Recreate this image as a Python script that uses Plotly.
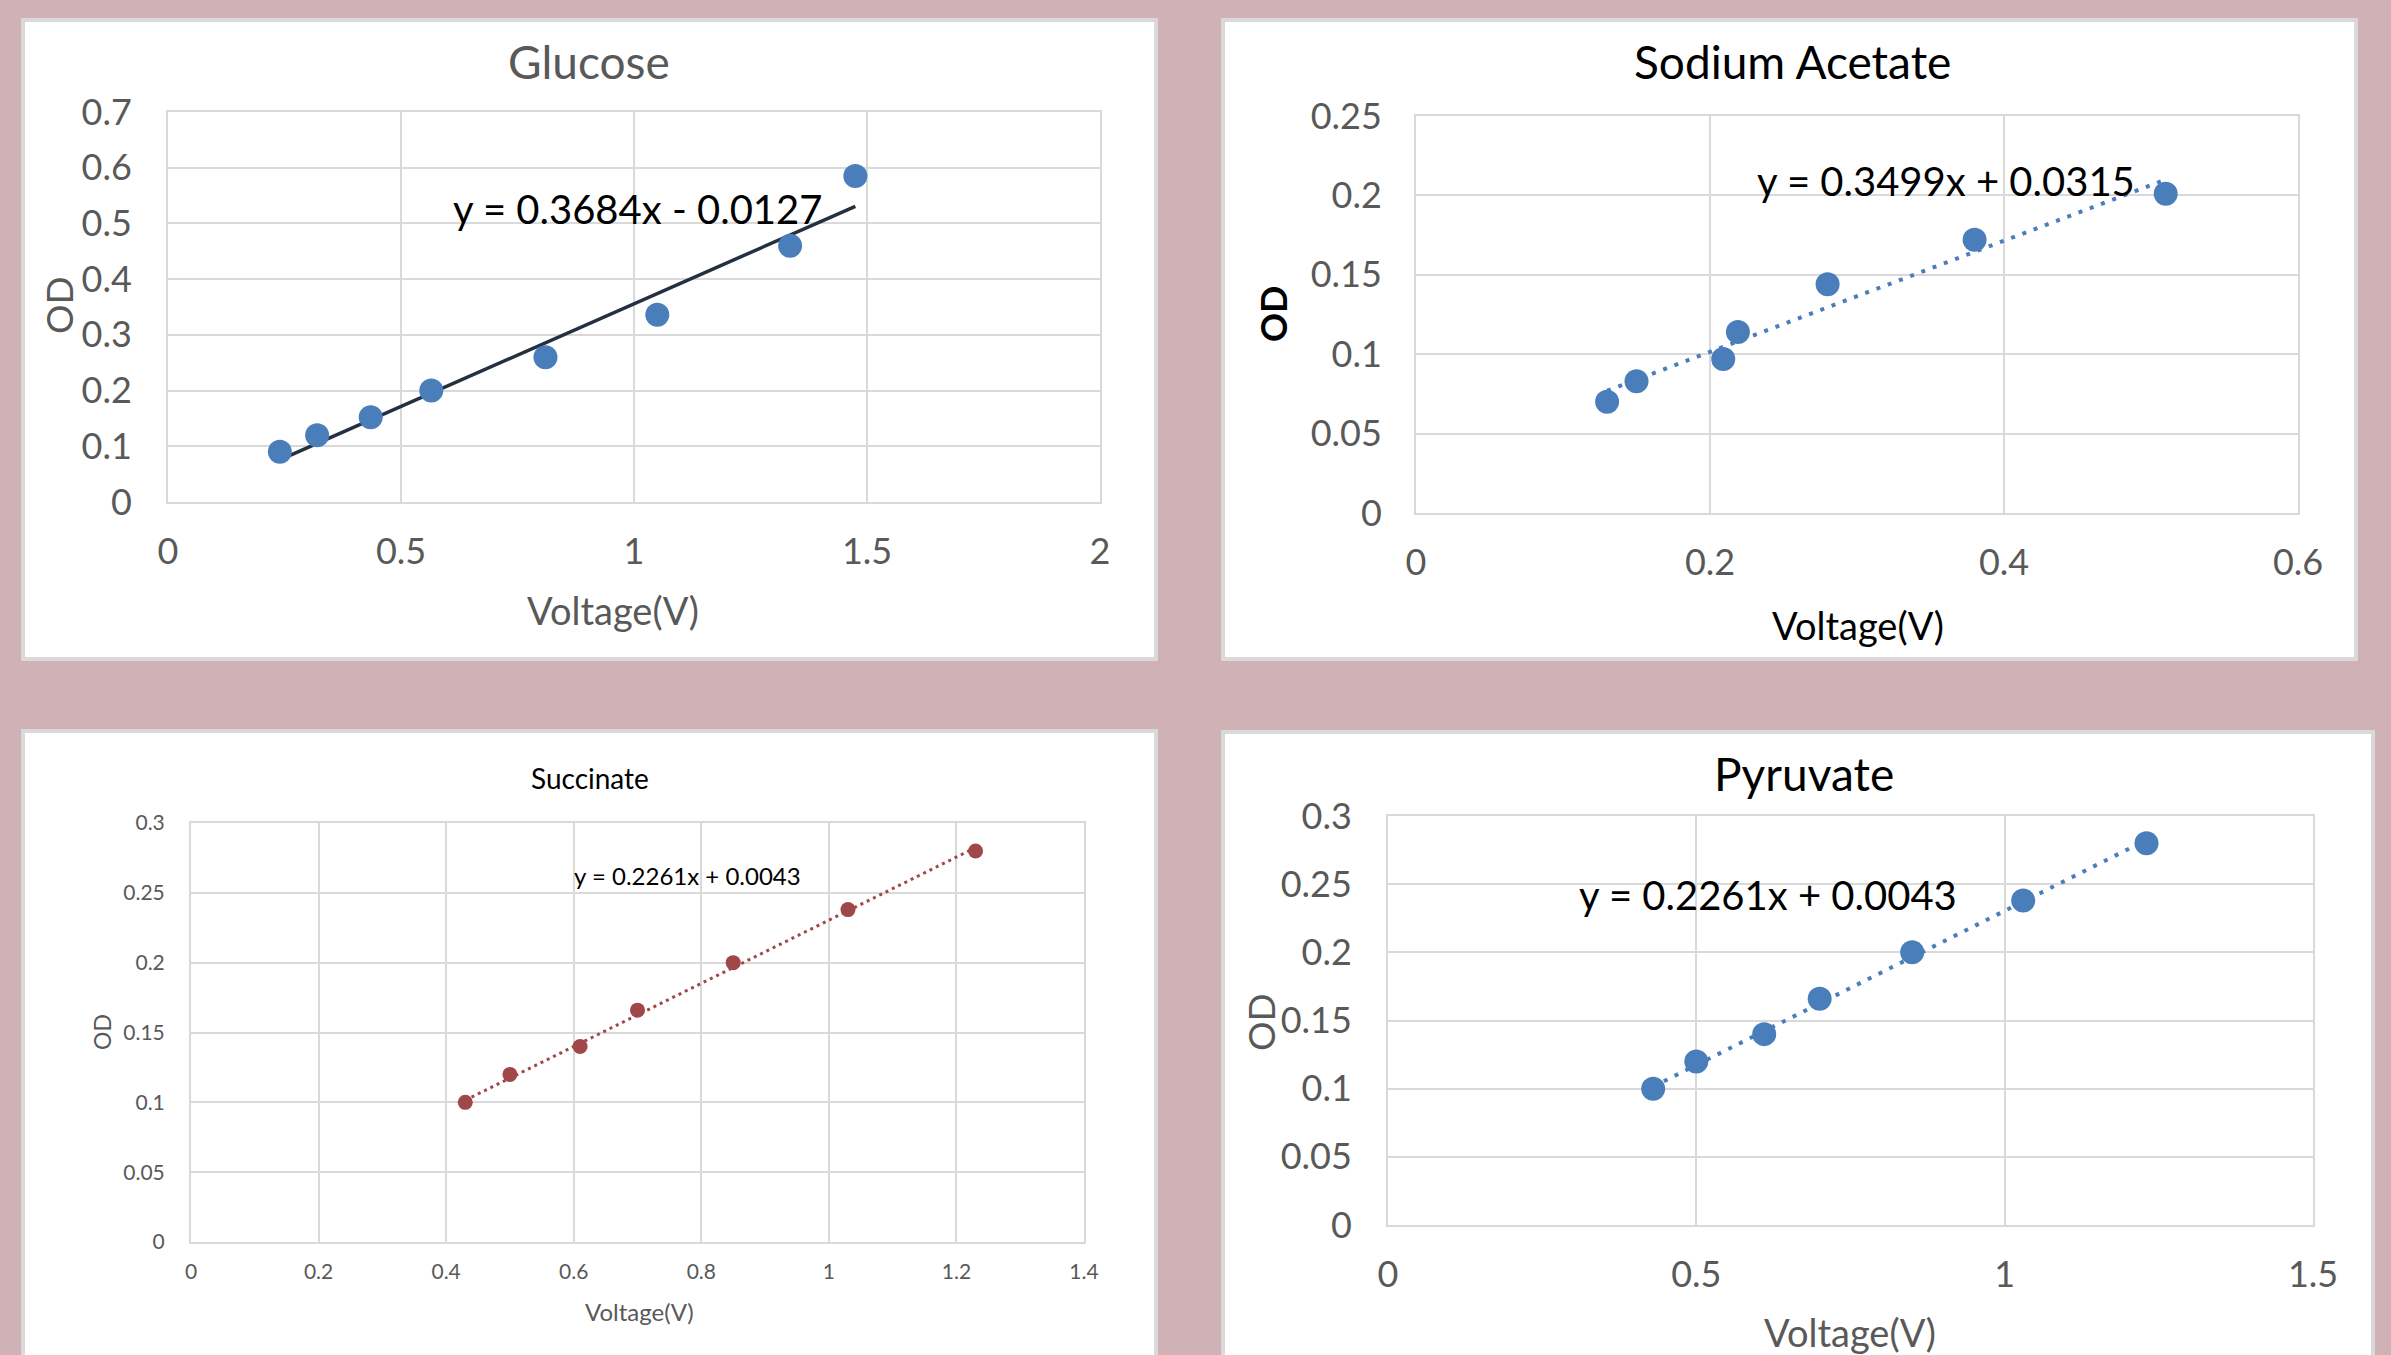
import numpy as np
import plotly.graph_objects as go

W, H = 2391, 1355

# ---------------- data ----------------
glucose_v = [0.24, 0.32, 0.435, 0.565, 0.81, 1.05, 1.335, 1.475]
glucose_od = [0.09, 0.12, 0.152, 0.20, 0.26, 0.336, 0.46, 0.585]
glucose_fit = [0.3684, -0.0127]

acetate_v = [0.13, 0.15, 0.209, 0.219, 0.28, 0.38, 0.51]
acetate_od = [0.07, 0.083, 0.097, 0.114, 0.144, 0.172, 0.201]
acetate_fit = [0.3499, 0.0315]

succinate_v = [0.43, 0.50, 0.61, 0.70, 0.85, 1.03, 1.23]
succinate_od = [0.10, 0.12, 0.14, 0.166, 0.20, 0.238, 0.28]
succinate_fit = [0.2261, 0.0043]

pyruvate_v = [0.43, 0.50, 0.61, 0.70, 0.85, 1.03, 1.23]
pyruvate_od = [0.10, 0.12, 0.14, 0.166, 0.20, 0.238, 0.28]
pyruvate_fit = [0.2261, 0.0043]

titles = ["Glucose", "Sodium Acetate", "Succinate", "Pyruvate"]
equations = ["y = 0.3684x - 0.0127", "y = 0.3499x + 0.0315",
             "y = 0.2261x + 0.0043", "y = 0.2261x + 0.0043"]

FONT = "Lato, 'Open Sans', sans-serif"
GRAY = "#595959"
GRID = "#d9d9d9"
BLUE = "#4a7ebb"
RED = "#a0474a"
BG = "#d0b1b5"


def px(x):
    return x / W


def py(y):
    return 1 - y / H


fig = go.Figure()

# panel definitions: plot-area pixel boxes (left, right, top, bottom)
panels = [
    dict(v=glucose_v, od=glucose_od, fit=glucose_fit, box=(168, 1100, 112, 502),
         xr=[0, 2], xd=0.5, yr=[0, 0.7], yd=0.1, tick=36, color=BLUE, msize=24,
         line=dict(color="#23303f", width=3.5, dash="solid"),
         xstand=17, ystand=27),
    dict(v=acetate_v, od=acetate_od, fit=acetate_fit, box=(1416, 2298, 116, 513),
         xr=[0, 0.6], xd=0.2, yr=[0, 0.25], yd=0.05, tick=36, color=BLUE, msize=24,
         line=dict(color=BLUE, width=4, dash="4px,8px"),
         xstand=17, ystand=25),
    dict(v=succinate_v, od=succinate_od, fit=succinate_fit, box=(191, 1084, 823, 1242),
         xr=[0, 1.4], xd=0.2, yr=[0, 0.3], yd=0.05, tick=21, color=RED, msize=15,
         line=dict(color=RED, width=3, dash="3px,4px"),
         xstand=10, ystand=20),
    dict(v=pyruvate_v, od=pyruvate_od, fit=pyruvate_fit, box=(1388, 2313, 816, 1225),
         xr=[0, 1.5], xd=0.5, yr=[0, 0.3], yd=0.05, tick=36, color=BLUE, msize=24,
         line=dict(color=BLUE, width=4, dash="4px,8px"),
         xstand=17, ystand=27),
]

layout_axes = {}
for i, p in enumerate(panels):
    n = "" if i == 0 else str(i + 1)
    xa, ya = "x" + n, "y" + n
    l, r, t, b = p["box"]
    x = np.array(p["v"])
    xs = np.array([x.min(), x.max()])
    ys = p["fit"][0] * xs + p["fit"][1]
    fig.add_trace(go.Scatter(x=xs, y=ys, mode="lines", line=p["line"],
                             xaxis=xa, yaxis=ya, showlegend=False, hoverinfo="skip"))
    fig.add_trace(go.Scatter(x=p["v"], y=p["od"], mode="markers",
                             marker=dict(color=p["color"], size=p["msize"]),
                             xaxis=xa, yaxis=ya, showlegend=False))
    common = dict(showgrid=True, gridcolor=GRID, gridwidth=2, zeroline=False,
                  showline=True, linecolor=GRID, linewidth=2, mirror=True,
                  ticks="", tickfont=dict(family=FONT, size=p["tick"], color=GRAY),
                  fixedrange=True, automargin=False)
    layout_axes["xaxis" + n] = dict(common, domain=[px(l), px(r)], range=p["xr"],
                                    dtick=p["xd"], tick0=0, anchor=ya,
                                    ticklabelstandoff=p["xstand"])
    layout_axes["yaxis" + n] = dict(common, domain=[py(b), py(t)], range=p["yr"],
                                    dtick=p["yd"], tick0=0, anchor=xa,
                                    ticklabelstandoff=p["ystand"])

# cards behind each chart
cards = [(23, 1156, 20, 659), (1223, 2356, 20, 659), (23, 1156, 731, 1420), (1223, 2373, 732, 1420)]
shapes = []
for (l, r, t, b) in cards:
    shapes.append(dict(type="rect", xref="paper", yref="paper", layer="below",
                       x0=px(l), x1=px(r), y0=py(b), y1=py(t),
                       fillcolor="white", line=dict(color=GRID, width=4)))

annotations = []


def ann(text, x, y, size, color, angle=0, bold=False):
    t = "<b>%s</b>" % text if bold else text
    annotations.append(dict(text=t, x=px(x), y=py(y), xref="paper", yref="paper",
                            xanchor="center", yanchor="middle", showarrow=False,
                            textangle=angle, font=dict(family=FONT, size=size, color=color)))


# Glucose
ann(titles[0], 589, 61, 46, GRAY)
ann(equations[0], 637, 209, 40, "black")
ann("Voltage(V)", 613, 610, 38, GRAY)
ann("OD", 58, 305, 37, GRAY, angle=-90)
# Sodium Acetate
ann(titles[1], 1793, 61, 46, "black")
ann(equations[1], 1946, 181, 40, "black")
ann("Voltage(V)", 1858, 625, 38, "black")
ann("OD", 1273, 314, 36, "black", angle=-90, bold=True)
# Succinate
ann(titles[2], 590, 778, 28, "black")
ann(equations[2], 687, 875, 24, "black")
ann("Voltage(V)", 639, 1311, 24, GRAY)
ann("OD", 102, 1032, 23, GRAY, angle=-90)
# Pyruvate
ann(titles[3], 1804, 773, 46, "black")
ann(equations[3], 1768, 895, 40, "black")
ann("Voltage(V)", 1850, 1332, 38, GRAY)
ann("OD", 1260, 1022, 37, GRAY, angle=-90)

fig.update_layout(width=W, height=H,
                  margin=dict(l=0, r=0, t=0, b=0, pad=0, autoexpand=False),
                  paper_bgcolor=BG, plot_bgcolor="rgba(0,0,0,0)",
                  shapes=shapes, annotations=annotations, showlegend=False,
                  font=dict(family=FONT), **layout_axes)

fig.write_html("out.html",
               config={"displayModeBar": False},
               post_script="document.body.style.margin='0';"
                           "document.body.style.background='%s';" % BG)
